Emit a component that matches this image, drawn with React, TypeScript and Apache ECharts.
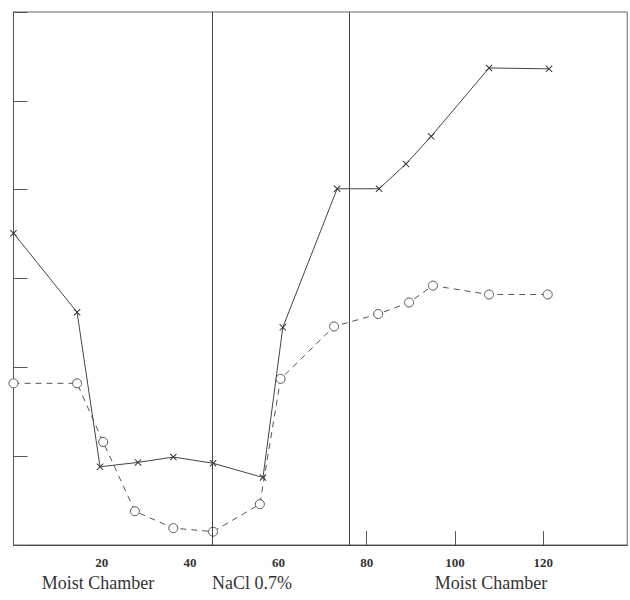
import React, { useEffect, useRef } from "react";
import * as echarts from "echarts";

const solidX = [0, 14.4, 19.6, 28.2, 36.2, 45.2, 56.5, 61, 73.3, 82.8, 88.9, 94.6, 107.7, 121.3];
const solidY = [3.51, 2.62, 0.88, 0.93, 0.99, 0.92, 0.76, 2.45, 4.01, 4.01, 4.29, 4.6, 5.37, 5.36];
const dashX = [0, 14.4, 20.3, 27.5, 36.2, 45.2, 55.8, 60.5, 72.6, 82.6, 89.6, 95, 107.7, 121];
const dashY = [1.82, 1.82, 1.16, 0.38, 0.19, 0.15, 0.46, 1.87, 2.46, 2.6, 2.73, 2.92, 2.82, 2.82];
const xTickLabels = [20, 40, 60, 80, 100, 120];
const xTickMarks = [80, 100, 120];
const dividers = [45, 76];
const phaseLabels = ["Moist Chamber", "NaCl 0.7%", "Moist Chamber"];
const phaseCenters = [98, 252, 491];

const crossSymbol =
  "path://M0,1 L1,0 L5,4 L9,0 L10,1 L6,5 L10,9 L9,10 L5,6 L1,10 L0,9 L4,5 Z";

export default function App() {
  const ref = useRef<HTMLDivElement>(null);
  useEffect(() => {
    if (!ref.current) return;
    const chart = echarts.init(ref.current, null, { renderer: "svg" });
    const serif = "'Liberation Serif', 'DejaVu Serif', serif";
    chart.setOption({
      animation: false,
      backgroundColor: "#ffffff",
      grid: {
        left: 13.5,
        right: 2.8,
        top: 12,
        bottom: 55,
        show: true,
        borderColor: "#666",
        borderWidth: 1,
      },
      xAxis: {
        type: "value",
        min: 0,
        max: 139,
        interval: 20,
        splitLine: { show: false },
        axisLine: { show: true, lineStyle: { color: "#444", width: 1.2 } },
        axisTick: {
          show: true,
          inside: true,
          length: 14,
          customValues: xTickMarks,
          lineStyle: { color: "#555" },
        },
        axisLabel: {
          customValues: xTickLabels,
          color: "#333",
          fontFamily: serif,
          fontWeight: "bold",
          fontSize: 13,
          margin: 11,
        },
      },
      yAxis: {
        type: "value",
        min: 0,
        max: 6,
        interval: 1,
        splitLine: { show: false },
        axisLine: { show: true, lineStyle: { color: "#555", width: 1 } },
        axisTick: { show: true, inside: true, length: 14, lineStyle: { color: "#555" } },
        axisLabel: { show: false },
      },
      graphic: phaseLabels.map((t, i) => ({
        type: "text",
        x: phaseCenters[i],
        y: 583,
        style: {
          text: t,
          fill: "#333",
          font: `18px ${serif}`,
          textAlign: "center",
          textVerticalAlign: "middle",
        },
      })),
      series: [
        {
          type: "line",
          data: solidX.map((x, i) => [x, solidY[i]]),
          symbol: crossSymbol,
          symbolSize: 7,
          itemStyle: { color: "#333" },
          lineStyle: { color: "#444", width: 1 },
          markLine: {
            silent: true,
            symbol: "none",
            label: { show: false },
            lineStyle: { color: "#444", width: 1, type: "solid" },
            data: dividers.map((d) => [
              { coord: [d, 0] },
              { coord: [d, 6] },
            ]),
          },
        },
        {
          type: "line",
          data: dashX.map((x, i) => [x, dashY[i]]),
          symbol: "circle",
          symbolSize: 9,
          itemStyle: { color: "#fff", borderColor: "#555", borderWidth: 1 },
          lineStyle: { color: "#555", width: 1, type: [6, 5] },
        },
      ],
    });
    return () => chart.dispose();
  }, []);
  return (
    <div
      ref={ref}
      style={{ position: "fixed", left: 0, top: 0, width: 630, height: 600 }}
    />
  );
}
